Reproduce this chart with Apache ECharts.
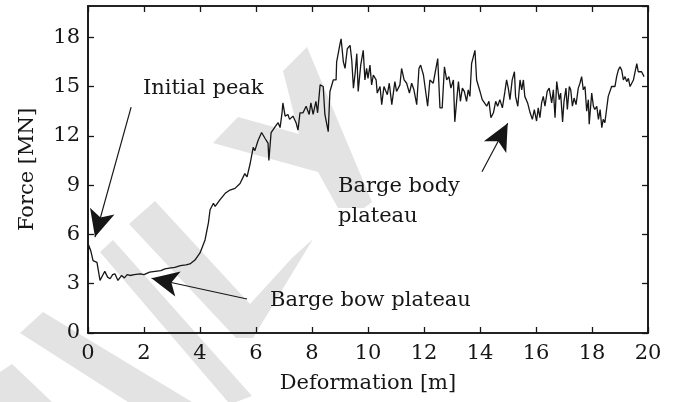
<!DOCTYPE html>
<html>
<head>
<meta charset="utf-8">
<script src="https://cdn.jsdelivr.net/npm/echarts@6/dist/echarts.min.js"></script>
<style>
  html, body { margin: 0; padding: 0; background: #fff; }
  #chart { width: 677px; height: 402px; }
</style>
</head>
<body>
<div id="chart"></div>
<script>
// Force–deformation record of the barge impact
const deformation = [
  0, 0.02, 0.1, 0.18, 0.32, 0.43, 0.52, 0.6, 0.7, 0.79, 0.88, 0.96, 1.07, 1.2, 1.3, 1.4, 1.5, 1.65, 1.86, 2.0,
  2.2, 2.4, 2.6, 2.75, 2.9, 3.1, 3.3, 3.5, 3.64, 3.82, 4.0, 4.18, 4.3, 4.36, 4.48, 4.54, 4.71, 4.9, 5.07, 5.25,
  5.43, 5.6, 5.68, 5.79, 5.9, 5.96, 6.07, 6.2, 6.32, 6.43, 6.46, 6.54, 6.68, 6.79, 6.86, 6.93, 6.96, 7.04, 7.14, 7.2,
  7.32, 7.43, 7.5, 7.57, 7.68, 7.79, 7.9, 7.96, 8.04, 8.14, 8.2, 8.29, 8.4, 8.46, 8.58, 8.64, 8.76, 8.86, 8.88, 9.0,
  9.04, 9.12, 9.18, 9.26, 9.36, 9.42, 9.48, 9.54, 9.6, 9.65, 9.74, 9.83, 9.89, 9.95, 10.0, 10.07, 10.13, 10.19, 10.29, 10.33,
  10.43, 10.49, 10.57, 10.64, 10.69, 10.76, 10.85, 10.96, 11.02, 11.14, 11.2, 11.29, 11.38, 11.48, 11.56, 11.64, 11.74, 11.82, 11.88, 11.98,
  12.04, 12.13, 12.21, 12.33, 12.49, 12.57, 12.65, 12.73, 12.81, 12.89, 12.96, 13.05, 13.1, 13.17, 13.23, 13.3, 13.37, 13.44, 13.52, 13.58,
  13.64, 13.7, 13.76, 13.82, 13.88, 13.94, 14.0, 14.08, 14.15, 14.24, 14.32, 14.39, 14.48, 14.56, 14.63, 14.71, 14.8, 14.89, 14.95, 15.01,
  15.07, 15.15, 15.23, 15.27, 15.35, 15.43, 15.49, 15.55, 15.6, 15.7, 15.79, 15.87, 15.94, 16.02, 16.08, 16.14, 16.2, 16.26, 16.32, 16.4,
  16.47, 16.56, 16.62, 16.68, 16.74, 16.77, 16.83, 16.88, 16.95, 17.0, 17.07, 17.12, 17.19, 17.24, 17.3, 17.36, 17.43, 17.51, 17.57, 17.63,
  17.69, 17.75, 17.81, 17.87, 17.9, 17.99, 18.05, 18.1, 18.17, 18.23, 18.29, 18.35, 18.4, 18.46, 18.52, 18.58, 18.64, 18.7, 18.76, 18.82,
  18.88, 18.94, 19.0, 19.06, 19.12, 19.18, 19.24, 19.3, 19.36, 19.42, 19.48, 19.54, 19.6, 19.65, 19.71, 19.77, 19.86
];
const force = [
  3.8, 5.35, 5.0, 4.4, 4.3, 3.2, 3.5, 3.75, 3.4, 3.3, 3.55, 3.6, 3.2, 3.5, 3.35, 3.55, 3.5, 3.55, 3.6, 3.55,
  3.7, 3.75, 3.8, 3.9, 3.95, 4.0, 4.1, 4.15, 4.2, 4.44, 4.87, 5.66, 6.7, 7.5, 7.9, 7.7, 8.1, 8.5, 8.7, 8.8,
  9.1, 9.7, 9.5, 10.3, 11.3, 11.1, 11.7, 12.2, 11.85, 11.55, 10.5, 12.2, 12.55, 12.8, 12.5, 13.4, 14.0, 13.2, 13.3, 13.0,
  13.2, 12.8, 12.35, 13.4, 13.4, 13.8, 13.3, 14.0, 13.3, 14.1, 13.4, 15.1, 15.0, 13.3, 12.25, 14.7, 15.4, 15.4, 16.5, 17.6,
  17.9, 16.5, 16.1, 17.3, 17.5, 16.6, 14.9, 15.8, 17.0, 14.7, 16.3, 17.2, 15.4, 16.1, 15.5, 16.3, 15.1, 15.7, 15.4, 14.6,
  15.0, 13.9, 15.0, 15.1, 14.5, 15.2, 13.9, 15.3, 14.7, 15.1, 16.1, 15.4, 15.2, 14.6, 15.2, 14.8, 13.9, 16.1, 16.3, 15.7,
  15.8, 13.8, 15.4, 15.2, 16.7, 13.7, 13.7, 16.2, 15.4, 15.6, 14.9, 15.4, 12.85, 14.2, 15.3, 14.1, 14.9, 14.7, 14.1, 14.8,
  14.4, 16.4, 16.8, 17.2, 15.4, 15.4, 14.7, 14.2, 14.1, 13.8, 14.1, 13.1, 13.4, 14.1, 13.8, 14.2, 13.7, 14.7, 15.4, 14.9,
  14.2, 15.4, 15.9, 14.4, 13.8, 15.4, 14.8, 15.4, 14.4, 14.0, 13.4, 13.0, 13.6, 12.9, 13.7, 13.1, 14.0, 14.4, 13.8, 14.7,
  14.9, 14.0, 14.8, 13.1, 15.3, 15.4, 14.2, 14.6, 12.85, 14.1, 14.9, 13.6, 15.0, 14.8, 13.8, 14.3, 13.9, 14.9, 15.2, 15.6,
  14.8, 15.0, 13.5, 14.2, 12.7, 14.6, 13.8, 13.6, 13.8, 13.0, 13.6, 12.5, 13.0, 12.8, 13.6, 14.4, 14.5, 15.0, 15.1, 15.0,
  15.6, 16.0, 16.2, 16.0, 15.4, 15.6, 15.3, 15.5, 15.0, 15.2, 15.4, 15.9, 16.4, 15.9, 15.8, 15.9, 15.6
];
const xTicks = { min: 0, max: 20, step: 2 };
const yTicks = { min: 0, max: 19.9, step: 3 };

// Annotation texts and the points they refer to (data units)
const noteTexts = ['Initial peak', 'Barge bow plateau', 'Barge body\nplateau'];
const noteAnchors = [[1.96, 14.9], [6.5, 2.0], [8.93, 8.03]];
const arrowTails = [[1.54, 13.75], [5.68, 2.07], [14.07, 9.81]];
const arrowTips = [[0.25, 5.84], [2.27, 3.33], [14.99, 12.76]];

const FONT = 'DejaVu Serif';
const INK = '#161616';
const MARK_GREY = '#e3e3e3';

const curve = deformation.map((d, i) => [d, force[i]]);
const notes = noteAnchors.map((p, i) => [p[0], p[1], noteTexts[i]]);
const arrows = arrowTails.map((t, i) => [
  { coord: t, symbol: 'none' },
  { coord: arrowTips[i], symbol: 'arrow', symbolSize: [19, 27] }
]);

// Pale diagonal background stamp behind the plot (screen pixels)
const stampShapes = [
  [[213, 143], [238, 117], [299, 134], [283, 71], [307, 47], [372, 202], [364, 208], [338, 208], [318, 172]],
  [[129, 224], [155, 201], [250, 304], [292, 258], [313, 239], [253, 338], [236, 338]],
  [[100, 252], [113, 240], [252, 396], [236, 402], [228, 402]],
  [[20, 333], [43, 312], [192, 402], [128, 402]],
  [[0, 372], [12, 364], [52, 402], [0, 402]]
];

const labelStyle = { fontFamily: FONT, fontSize: 21, color: INK };
const frameLine = { color: INK, width: 1.6 };
const frameTick = { show: true, inside: true, length: 6, lineStyle: { color: INK, width: 1.3 } };

const chart = echarts.init(document.getElementById('chart'), null, { renderer: 'canvas' });
chart.setOption({
  animation: false,
  backgroundColor: '#fff',
  graphic: stampShapes.map(pts => ({
    type: 'polygon',
    z: -10,
    silent: true,
    shape: { points: pts },
    style: { fill: MARK_GREY }
  })),
  grid: {
    left: 88, right: 29, top: 6, bottom: 69,
    show: true, borderColor: INK, borderWidth: 1.6, backgroundColor: 'transparent'
  },
  xAxis: [{
    type: 'value', min: xTicks.min, max: xTicks.max, interval: xTicks.step,
    name: 'Deformation [m]', nameLocation: 'middle', nameGap: 40,
    nameTextStyle: labelStyle,
    axisLine: { show: true, onZero: false, lineStyle: frameLine },
    axisTick: frameTick,
    axisLabel: Object.assign({ margin: 10 }, labelStyle),
    splitLine: { show: false }
  }, {
    type: 'value', position: 'top', min: xTicks.min, max: xTicks.max, interval: xTicks.step,
    axisLine: { show: true, onZero: false, lineStyle: frameLine },
    axisTick: frameTick,
    axisLabel: { show: false }, splitLine: { show: false }
  }],
  yAxis: [{
    type: 'value', min: yTicks.min, max: yTicks.max, interval: yTicks.step,
    name: 'Force [MN]', nameLocation: 'middle', nameGap: 50, nameRotate: 90,
    nameTextStyle: labelStyle,
    axisLine: { show: true, onZero: false, lineStyle: frameLine },
    axisTick: frameTick,
    axisLabel: Object.assign({ margin: 8, showMaxLabel: false }, labelStyle),
    splitLine: { show: false }
  }, {
    type: 'value', position: 'right', min: yTicks.min, max: yTicks.max, interval: yTicks.step,
    axisLine: { show: true, onZero: false, lineStyle: frameLine },
    axisTick: frameTick,
    axisLabel: { show: false }, splitLine: { show: false }
  }],
  series: [{
    name: 'Force',
    type: 'line',
    data: curve,
    showSymbol: false,
    lineStyle: { color: INK, width: 1.3 },
    z: 3,
    markLine: {
      silent: true,
      animation: false,
      lineStyle: { color: INK, width: 1.2, type: 'solid' },
      itemStyle: { color: INK },
      label: { show: false },
      emphasis: { disabled: true },
      data: arrows
    }
  }, {
    name: 'Notes',
    type: 'scatter',
    data: notes,
    symbolSize: 0,
    silent: true,
    z: 4,
    itemStyle: { opacity: 1 },
    label: {
      show: true,
      position: 'right',
      distance: 0,
      align: 'left',
      lineHeight: 30,
      fontFamily: FONT, fontSize: 21, color: INK,
      formatter: p => p.value[2]
    }
  }]
});
</script>
</body>
</html>
